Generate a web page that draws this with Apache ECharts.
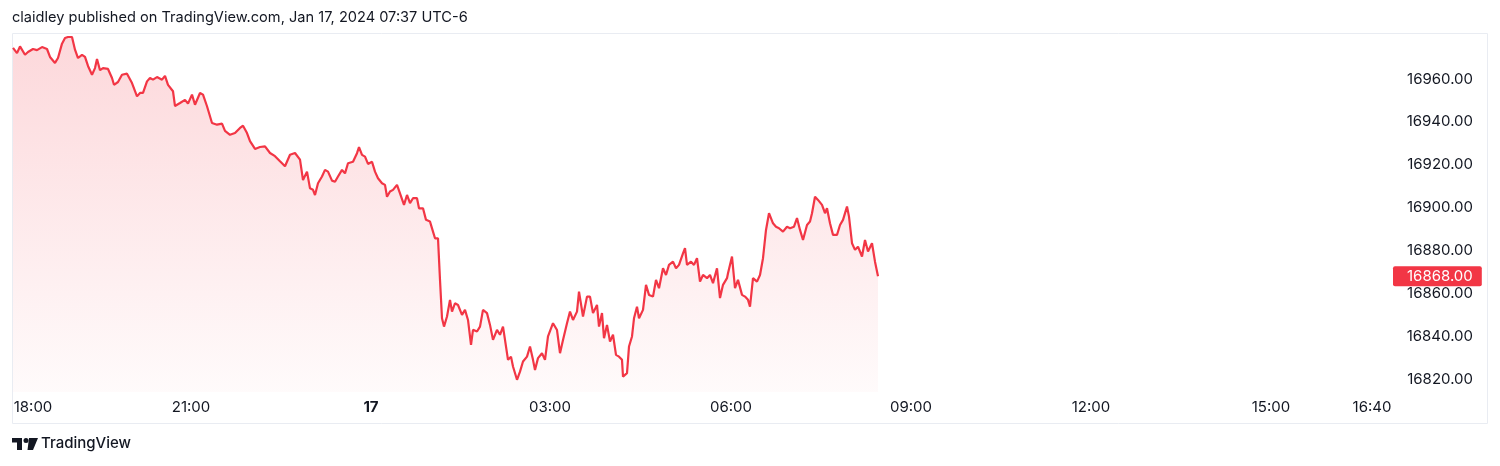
<!DOCTYPE html>
<html>
<head>
<meta charset="utf-8">
<script src="https://cdn.jsdelivr.net/npm/echarts@6/dist/echarts.min.js"></script>
<style>
  html, body { margin: 0; padding: 0; background: #ffffff; }
  #chart { width: 1500px; height: 466px; }
</style>
</head>
<body>
<div id="chart"></div>
<script>
// Bar index (TradingView index-based time axis, ~1 bar per minute)
const barIndex = [
  1,5,8,13,16,21,25,30,35,38,43,46,50,53,56,60,63,66,70,73,76,80,83,85,88,91,96,100,102,106,
  110,115,120,125,128,131,135,138,141,145,150,153,156,161,163,168,173,176,180,183,188,191,195,200,205,210,213,218,223,228,
  231,235,238,243,248,253,258,263,268,273,278,283,288,291,295,298,301,303,306,310,313,316,320,323,326,330,333,336,341,345,
  347,350,353,356,360,363,366,370,373,375,378,381,385,388,392,395,398,401,405,407,411,414,418,421,423,426,428,430,432,435,
  438,440,443,446,450,453,456,459,461,465,468,471,475,478,481,485,488,491,493,496,499,501,505,508,511,515,518,521,523,526,
  530,533,536,541,545,548,551,555,558,561,565,567,571,575,578,581,585,587,590,592,595,598,601,604,607,610,611,615,617,620,
  622,625,627,631,634,637,641,644,647,651,654,657,661,664,667,671,673,675,679,682,685,688,691,695,698,701,705,708,711,715,
  716,720,723,726,730,733,736,738,741,745,748,751,754,757,761,764,767,771,775,778,782,785,788,791,795,798,800,803,806,810,
  813,815,818,821,825,828,831,835,837,840,843,846,850,853,856,860,863,866
];
const price = [
  16974.5,16972.1,16975.2,16971.3,16972.6,16974.0,16973.5,16974.9,16974.0,16970.3,16967.5,16969.8,16976.5,16979.1,16979.6,16979.6,16973.7,16969.8,16971.3,16970.3,16966.1,16962.0,16965.1,16969.3,16964.1,16965.1,16964.7,16960.5,16957.3,16958.6,
  16962.0,16962.5,16958.1,16951.9,16953.5,16953.5,16958.9,16960.5,16959.7,16960.9,16959.7,16961.5,16957.3,16954.3,16947.4,16948.8,16950.3,16948.5,16952.7,16948.0,16953.5,16952.7,16947.3,16939.5,16938.7,16939.2,16935.8,16934.0,16934.8,16937.2,
  16938.2,16934.8,16931.0,16927.4,16928.3,16928.6,16925.5,16924.0,16921.6,16919.3,16924.7,16925.5,16922.4,16912.9,16916.8,16909.0,16908.3,16905.9,16911.4,16914.5,16917.6,16916.8,16912.6,16912.1,16914.5,16917.6,16916.0,16920.7,16921.4,16925.4,
  16928.2,16924.6,16923.8,16920.4,16921.4,16916.8,16913.7,16911.4,16910.6,16905.1,16907.5,16908.3,16910.6,16906.7,16901.3,16905.9,16902.1,16904.4,16904.4,16899.7,16899.7,16894.3,16893.5,16888.8,16885.7,16885.7,16866.3,16848.4,16844.5,16849.2,
  16857.0,16851.5,16855.4,16854.6,16850.0,16852.3,16847.6,16836.0,16843.0,16842.2,16844.5,16852.3,16850.8,16845.3,16838.3,16843.0,16840.7,16844.5,16838.3,16829.0,16830.5,16825.9,16819.7,16823.5,16828.2,16830.5,16835.2,16829.0,16824.3,16829.8,
  16832.1,16829.0,16839.9,16846.1,16842.9,16832.1,16838.3,16846.1,16851.5,16847.6,16851.5,16860.8,16849.2,16858.5,16858.5,16850.8,16854.6,16844.5,16850.8,16839.1,16845.3,16837.5,16840.7,16831.3,16830.5,16829.0,16821.2,16822.8,16835.2,16839.9,
  16848.4,16853.8,16848.4,16852.3,16864.0,16859.3,16858.5,16866.3,16862.4,16871.7,16868.6,16873.3,16874.8,16871.7,16873.3,16878.7,16881.1,16873.3,16874.8,16873.3,16876.4,16865.5,16868.6,16867.1,16868.6,16864.8,16871.7,16857.8,16864.0,16867.1,
  16869.4,16877.2,16862.4,16866.3,16859.3,16858.5,16857.0,16853.8,16867.1,16865.5,16868.6,16876.4,16889.6,16897.4,16892.7,16891.1,16890.4,16888.8,16891.1,16890.4,16891.1,16895.1,16889.6,16884.9,16891.9,16893.5,16897.4,16905.1,16903.6,16901.3,
  16897.4,16899.7,16892.7,16887.3,16887.3,16891.9,16894.3,16900.5,16895.8,16883.4,16880.3,16881.8,16877.2,16884.9,16879.5,16883.4,16874.8,16868.0
];
// Time axis ticks (bar index) and their labels
const tickBars = [21, 179, 359, 538, 719, 899, 1079, 1259, 1360];
const tickLabels = ['18:00', '21:00', '17', '03:00', '06:00', '09:00', '12:00', '15:00', '16:40'];
// Price scale ticks
const priceTicks = [16820, 16840, 16860, 16880, 16900, 16920, 16940, 16960];
const lastPrice = price[price.length - 1];

const FONT = 'Inter, Roboto, "Noto Sans", sans-serif';
const TEXT = '#131722';
const RED = '#F23645';

const chart = echarts.init(document.getElementById('chart'), null, { renderer: 'canvas' });
chart.setOption({
  animation: false,
  backgroundColor: '#ffffff',
  textStyle: { fontFamily: FONT },
  grid: { left: 12, right: 110, top: 34, bottom: 74, containLabel: false, outerBoundsMode: 'none' },
  xAxis: {
    type: 'value', min: 0, max: 1378,
    axisLine: { show: false }, axisTick: { show: false }, splitLine: { show: false },
    axisLabel: {
      customValues: tickBars,
      margin: 8,
      color: TEXT, fontSize: 15, fontFamily: FONT,
      formatter: function (v) {
        const t = tickLabels[tickBars.indexOf(v)];
        return t === '17' ? '{b|17}' : t;
      },
      rich: { b: { fontWeight: 'bold', fontSize: 15, color: TEXT, fontFamily: FONT } }
    }
  },
  yAxis: {
    type: 'value', position: 'right', min: 16814, max: 16981, scale: true,
    axisLine: { show: false }, axisTick: { show: false }, splitLine: { show: false },
    axisLabel: {
      customValues: priceTicks,
      align: 'right', margin: 83,
      color: TEXT, fontSize: 15, fontFamily: FONT,
      formatter: function (v) { return v.toFixed(2); }
    }
  },
  series: [{
    type: 'line',
    data: barIndex.map(function (b, i) { return [b, price[i]]; }),
    showSymbol: false,
    lineStyle: { color: RED, width: 2.2 },
    itemStyle: { color: RED },
    areaStyle: {
      origin: 'start',
      color: new echarts.graphic.LinearGradient(0, 0, 0, 1, [
        { offset: 0, color: 'rgba(242,54,69,0.28)' },
        { offset: 1, color: 'rgba(242,54,69,0.03)' }
      ])
    },
    markLine: {
      silent: true,
      symbol: ['none', 'none'],
      lineStyle: { color: 'rgba(0,0,0,0)', width: 1, type: 'solid' },
      emphasis: { disabled: true },
      data: [{ yAxis: lastPrice }],
      label: {
        show: true, position: 'end', distance: 3,
        formatter: function () { return lastPrice.toFixed(2); },
        color: '#ffffff', fontSize: 15, fontFamily: FONT, lineHeight: 15,
        backgroundColor: RED, borderRadius: 2,
        padding: [3, 9, 2, 14]
      }
    }
  }],
  graphic: [
    { type: 'rect', shape: { x: 12.5, y: 33.5, width: 1475, height: 390 },
      style: { fill: 'none', stroke: '#e9ecf2', lineWidth: 1 }, silent: true, z: -1 },
    { type: 'text', left: 12, top: 10,
      style: { text: 'claidley published on TradingView.com, Jan 17, 2024 07:37 UTC-6',
        fill: TEXT, font: '14.6px ' + FONT } },
    // TradingView logo
    { type: 'rect', shape: { x: 12, y: 438, width: 10, height: 4.5 }, style: { fill: TEXT } },
    { type: 'rect', shape: { x: 17, y: 438, width: 5, height: 12 }, style: { fill: TEXT } },
    { type: 'circle', shape: { cx: 26, cy: 440.5, r: 2.5 }, style: { fill: TEXT } },
    { type: 'polygon', shape: { points: [[29, 438], [38, 438], [33, 450], [27.5, 450]] }, style: { fill: TEXT } },
    { type: 'text', left: 41, top: 436,
      style: { text: 'TradingView', fill: TEXT, font: '500 15px ' + FONT } }
  ]
});
</script>
</body>
</html>
